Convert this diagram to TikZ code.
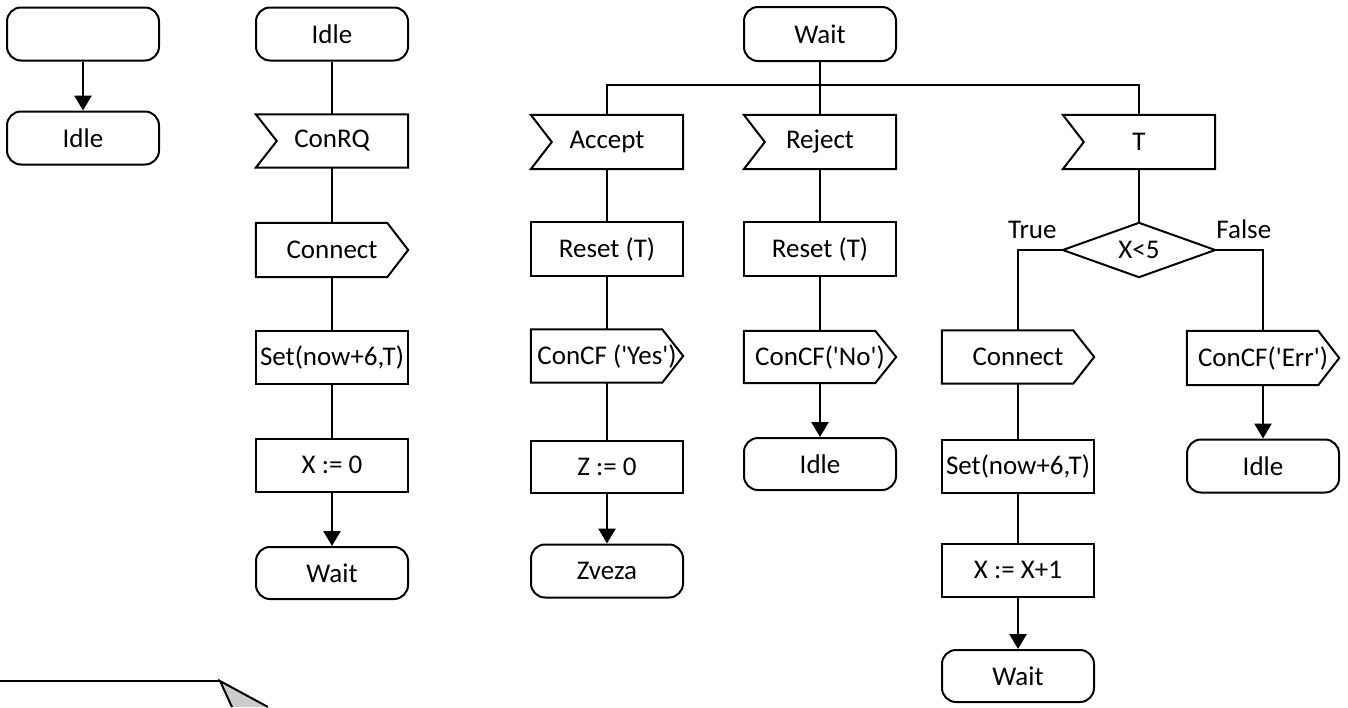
\documentclass[tikz,border=0pt]{standalone}
\usepackage{fontspec}
\setmainfont{Carlito}
\usetikzlibrary{arrows.meta}
\newcommand\fs{\fontsize{27}{32}\selectfont}
\newcommand\q{\textquotesingle}
\newcommand\insigpath[1]{\draw[sigline] (#1.north west) -- (#1.north east) -- (#1.south east) -- (#1.south west) -- ([xshift=21pt]#1.west) -- cycle;}
\newcommand\outsigpath[1]{\draw[sigline] (#1.north west) -- ([xshift=-21pt]#1.north east) -- (#1.east) -- ([xshift=-21pt]#1.south east) -- (#1.south west) -- cycle;}
\tikzset{
  box/.style={rectangle, draw, line width=2pt, minimum width=152pt, minimum height=53pt, inner sep=0pt, font=\fs},
  term/.style={box, rounded corners=14pt},
  sig/.style={rectangle, minimum width=152pt, minimum height=53pt, inner sep=0pt, font=\fs},
  sigline/.style={line width=2pt},
  conn/.style={line width=1.7pt},
  arr/.style={line width=2.6pt, -{Triangle[length=15pt,width=17pt]}},
  lbl/.style={font=\fs, inner sep=0pt},
}
\begin{document}
\begin{tikzpicture}[x=1pt,y=-1pt]
\useasboundingbox (0,0) rectangle (1348,707);
% column 1
\node[term] (s0) at (83,34) {};
\node[term] (i1) at (83,138) {Idle};
\draw[arr] (s0) -- (i1);
% column 2
\node[term] (idle2) at (332,34) {Idle};
\node[sig] (conrq) at (332,141) {ConRQ};
\node[sig, minimum height=54pt] (connect2) at (332,250) {Connect};
\node[box] (set2) at (332,357) {Set(now+6,T)};
\node[box] (x0) at (332,465) {X := 0};
\node[term, minimum height=52pt] (wait2) at (332,573) {Wait};
\insigpath{conrq}
\outsigpath{connect2}
\draw[conn] (idle2) -- (conrq);
\draw[conn] (conrq) -- (connect2);
\draw[conn] (connect2) -- (set2);
\draw[conn] (set2) -- (x0);
\draw[arr] (x0) -- (wait2);
% column 3
\node[term, minimum height=54pt] (wait3) at (820,34) {Wait};
\node[sig, minimum height=54pt] (acc) at (607,142) {Accept};
\node[sig, minimum height=54pt] (rej) at (820,142) {Reject};
\node[sig, minimum height=54pt] (tsig) at (1139,142) {T};
\insigpath{acc}
\insigpath{rej}
\insigpath{tsig}
\coordinate (bus) at (820,85);
\draw[conn] (wait3) -- (rej);
\draw[conn] (acc) -- (acc.north |- bus) -- (tsig.north |- bus) -- (tsig);
% accept branch
\node[box, minimum height=54pt] (resA) at (607,249) {Reset (T)};
\node[sig] (yes) at (607,356) {ConCF (\q Yes\q)};
\node[box, minimum height=52pt] (z0) at (607,467) {Z := 0};
\node[term] (zveza) at (607,571) {Zveza};
\outsigpath{yes}
\draw[conn] (acc) -- (resA);
\draw[conn] (resA) -- (yes);
\draw[conn] (yes) -- (z0);
\draw[arr] (z0) -- (zveza);
% reject branch
\node[box, minimum height=54pt] (resB) at (820,249) {Reset (T)};
\node[sig, minimum height=52pt] (no) at (820,357) {ConCF(\q No\q)};
\node[term, minimum height=52pt] (idleB) at (820,464) {Idle};
\outsigpath{no}
\draw[conn] (rej) -- (resB);
\draw[conn] (resB) -- (no);
\draw[arr] (no) -- (idleB);
% timer branch
\node[sig, minimum height=54pt] (dec) at (1139,250) {X<5};
\draw[sigline] (dec.north) -- (dec.east) -- (dec.south) -- (dec.west) -- cycle;
\draw[conn] (tsig) -- (dec);
\node[lbl, anchor=base east] (ltrue) at ([xshift=-6pt,yshift=12pt]dec.west) {True};
\node[lbl, anchor=base west] (lfalse) at ([xshift=1pt,yshift=12pt]dec.east) {False};
\node[sig] (connect3) at (1018,357) {Connect};
\node[box] (set3) at (1018,466) {Set(now+6,T)};
\node[box] (xinc) at (1018,570) {X := X+1};
\node[term, minimum height=52pt] (wait4) at (1018,676) {Wait};
\outsigpath{connect3}
\node[sig, minimum height=54pt] (err) at (1263,358) {ConCF(\q Err\q)};
\node[term] (idleC) at (1263,466) {Idle};
\outsigpath{err}
\draw[conn] (dec.west) -| (connect3.north);
\draw[conn] (dec.east) -| (err.north);
\draw[conn] (connect3) -- (set3);
\draw[conn] (set3) -- (xinc);
\draw[arr] (xinc) -- (wait4);
\draw[arr] (err) -- (idleC);
% partial comment shape at bottom left
\draw[line width=2pt, fill={rgb,255:red,204;green,204;blue,204}, line join=miter] (232,707) -- (220,681) -- (268,707);
\draw[line width=2pt] (-5,681) -- (220,681);
\end{tikzpicture}
\end{document}
